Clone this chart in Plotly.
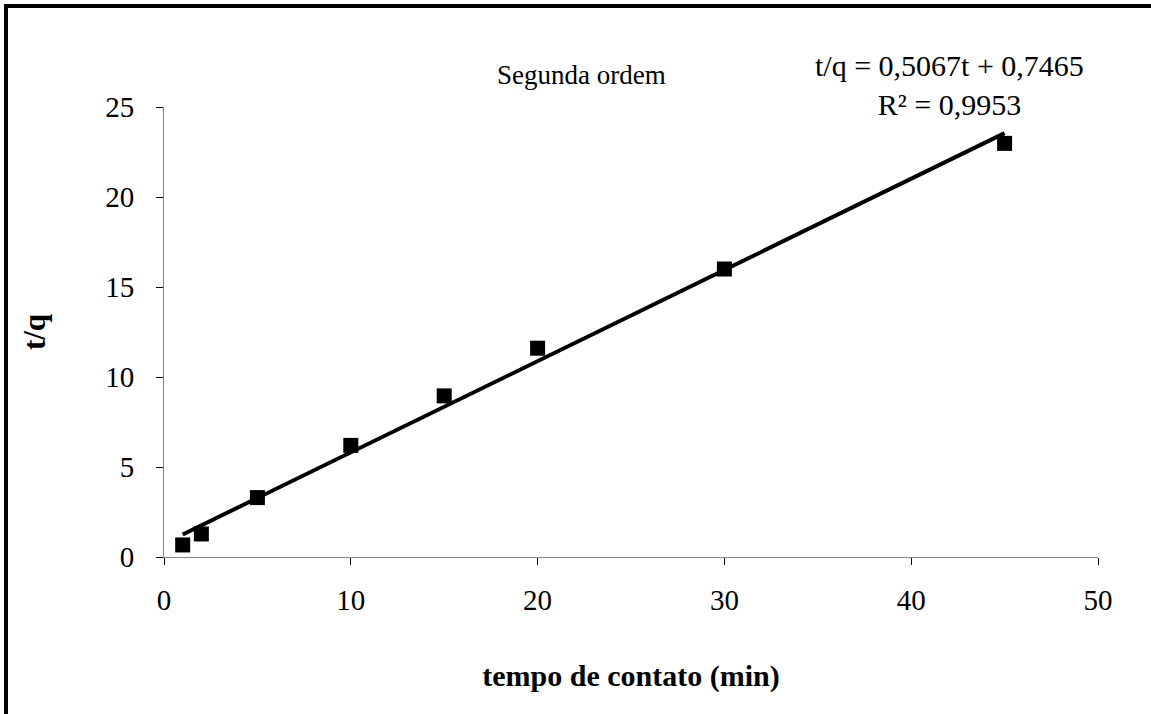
import plotly.graph_objects as go

# Data
tempo = [1, 2, 5, 10, 15, 20, 30, 45]
t_q = [0.67, 1.28, 3.3, 6.2, 8.95, 11.6, 16.0, 22.98]
slope = 0.5067
intercept = 0.7465
r2 = 0.9953
x_ticks = [0, 10, 20, 30, 40, 50]
y_ticks = [0, 5, 10, 15, 20, 25]

trend_x = [min(tempo), max(tempo)]
trend_y = [slope * v + intercept for v in trend_x]

FONT = "Liberation Serif"

fig = go.Figure()
fig.add_trace(go.Scatter(x=trend_x, y=trend_y, mode="lines",
                         line=dict(color="black", width=4), showlegend=False))
fig.add_trace(go.Scatter(x=tempo, y=t_q, mode="markers",
                         marker=dict(symbol="square", size=15, color="black"),
                         showlegend=False))

L, R, T, B = 164, 53, 107, 157
W, H = 1151, 714
pw, ph = W - L - R, H - T - B

def px(x):
    return (x - L) / pw

def py(y):
    return (H - B - y) / ph

fig.update_layout(
    width=W, height=H,
    margin=dict(l=L, r=R, t=T, b=B),
    paper_bgcolor="white", plot_bgcolor="white",
    font=dict(family=FONT, color="black", size=28),
    xaxis=dict(range=[0, 50], tickvals=x_ticks, showgrid=False, zeroline=False,
               showline=True, linecolor="#868686", linewidth=1,
               ticks="outside", ticklen=7, tickcolor="black",
               tickfont=dict(size=29, family=FONT), ticklabelstandoff=10,
               title=dict(text="<b>tempo de contato (min)</b>", font=dict(size=30, family=FONT),
                          standoff=50)),
    yaxis=dict(range=[0, 25], tickvals=y_ticks, showgrid=False, zeroline=False,
               showline=True, linecolor="#868686", linewidth=1,
               ticks="outside", ticklen=7, tickcolor="black",
               tickfont=dict(size=29, family=FONT), ticklabelstandoff=16,
               title=dict(text="<b>t/q</b>", font=dict(size=31, family=FONT), standoff=50)),
    annotations=[
        dict(text="Segunda ordem", x=px(581), y=py(75), xref="paper", yref="paper",
             showarrow=False, font=dict(size=27, family=FONT), xanchor="center", yanchor="middle"),
        dict(text="t/q = 0,5067t + 0,7465<br>R² = 0,9953", x=px(949), y=py(85),
             xref="paper", yref="paper", showarrow=False, align="center",
             font=dict(size=30, family=FONT), xanchor="center", yanchor="middle"),
    ],
    shapes=[
        dict(type="line", xref="paper", yref="paper", x0=px(6), x1=px(6),
             y0=py(4), y1=py(720), line=dict(color="black", width=4)),
        dict(type="line", xref="paper", yref="paper", x0=px(4), x1=px(1160),
             y0=py(6), y1=py(6), line=dict(color="black", width=4)),
    ],
)

fig.write_html("out.html")
